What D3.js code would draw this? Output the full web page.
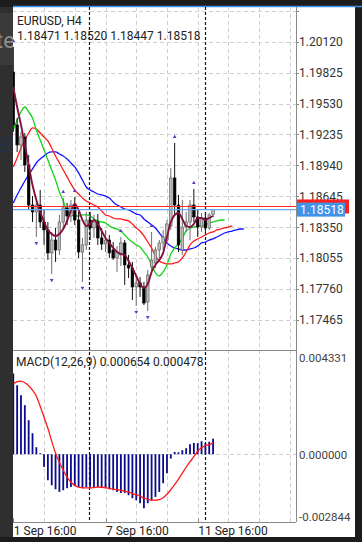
<!DOCTYPE html>
<html><head><meta charset="utf-8">
<script src="https://cdn.jsdelivr.net/npm/d3@7"></script>
<style>html,body{margin:0;padding:0;background:#1e1e1e;overflow:hidden}svg{display:block}</style>
</head><body><svg id="c" width="362" height="542"></svg>
<script>
// ---------- DATA ----------
const symbolTitle = "EURUSD, H4";
const ohlcLine = "1.18471 1.18520 1.18447 1.18518";
const macdTitle = "MACD(12,26,9) 0.000654 0.000478";
const openP  = [1.19831,1.19326,1.19135,1.19211,1.18944,1.18562,1.18496,1.18562,1.18400,1.18324,1.18105,1.18228,1.18133,1.18400,1.18534,1.18457,1.18562,1.18419,1.18114,1.18181,1.18419,1.18343,1.18400,1.18248,1.18190,1.18228,1.18133,1.18057,1.18086,1.18200,1.17990,1.17961,1.17780,1.17819,1.17780,1.17637,1.17971,1.18009,1.18133,1.18200,1.18228,1.18362,1.18820,1.18562,1.18133,1.18352,1.18400,1.18562,1.18448,1.18352,1.18438,1.18343,1.18471];
const highP  = [1.20070,1.19392,1.19259,1.19249,1.19039,1.18648,1.18600,1.18705,1.18515,1.18400,1.18305,1.18343,1.18467,1.18629,1.18581,1.18610,1.18639,1.18496,1.18248,1.18496,1.18496,1.18467,1.18476,1.18343,1.18324,1.18276,1.18209,1.18171,1.18257,1.18228,1.18086,1.18019,1.17895,1.17875,1.17828,1.17942,1.18305,1.18162,1.18228,1.18324,1.18419,1.18915,1.19154,1.18658,1.18610,1.18496,1.18610,1.18715,1.18515,1.18486,1.18496,1.18486,1.18520];
const lowP   = [1.19259,1.19068,1.18992,1.18877,1.18515,1.18400,1.18257,1.18343,1.18181,1.18038,1.17904,1.18019,1.18086,1.18324,1.18372,1.18400,1.18372,1.18057,1.17828,1.18133,1.18228,1.18248,1.18181,1.18133,1.18114,1.18057,1.18038,1.17923,1.17980,1.17799,1.17866,1.17656,1.17599,1.17685,1.17608,1.17551,1.17895,1.17961,1.18057,1.18133,1.18190,1.18324,1.18467,1.18114,1.18086,1.18305,1.18228,1.18400,1.18257,1.18305,1.18295,1.18324,1.18447];
const closeP = [1.19326,1.19135,1.19211,1.18944,1.18562,1.18496,1.18562,1.18400,1.18324,1.18105,1.18228,1.18133,1.18400,1.18534,1.18457,1.18562,1.18419,1.18114,1.18181,1.18419,1.18343,1.18400,1.18248,1.18190,1.18228,1.18105,1.18057,1.18114,1.18200,1.17990,1.17961,1.17780,1.17819,1.17780,1.17627,1.17895,1.18038,1.18133,1.18200,1.18257,1.18381,1.18820,1.18562,1.18181,1.18352,1.18400,1.18562,1.18448,1.18352,1.18438,1.18343,1.18467,1.18518];
// Alligator jaw (blue), teeth (red), lips (green) — drawn forward-shifted, one value per bar slot
const jawBlue = [1.18581,1.18658,1.18725,1.18791,1.18849,1.18906,1.18963,1.19001,1.19030,1.19058,1.19068,1.19068,1.19049,1.19030,1.19001,1.18963,1.18925,1.18868,1.18801,1.18734,1.18705,1.18686,1.18667,1.18658,1.18648,1.18629,1.18591,1.18562,1.18543,1.18524,1.18515,1.18496,1.18476,1.18467,1.18429,1.18400,1.18372,1.18343,1.18295,1.18248,1.18200,1.18171,1.18152,1.18143,1.18133,1.18133,1.18143,1.18152,1.18171,1.18200,1.18209,1.18228,1.18238,1.18257,1.18276,1.18295,1.18305,1.18314,1.18324,1.18333,1.18333];
const teethRed = [1.18925,1.19011,1.19106,1.19182,1.19249,1.19297,1.19287,1.19249,1.19211,1.19173,1.19106,1.19030,1.18963,1.18896,1.18830,1.18763,1.18705,1.18667,1.18629,1.18600,1.18581,1.18562,1.18543,1.18505,1.18467,1.18457,1.18438,1.18429,1.18429,1.18419,1.18410,1.18381,1.18343,1.18314,1.18267,1.18209,1.18152,1.18076,1.18028,1.18009,1.18000,1.18000,1.18009,1.18019,1.18057,1.18114,1.18181,1.18219,1.18238,1.18257,1.18276,1.18295,1.18305,1.18324,1.18333,1.18343,1.18352,1.18362];
const lipsGreen = [1.19278,1.19373,1.19450,1.19497,1.19450,1.19392,1.19278,1.19182,1.19087,1.18992,1.18896,1.18801,1.18686,1.18600,1.18496,1.18467,1.18457,1.18457,1.18467,1.18467,1.18457,1.18429,1.18410,1.18400,1.18391,1.18362,1.18343,1.18333,1.18314,1.18276,1.18238,1.18209,1.18181,1.18162,1.18114,1.18066,1.17990,1.17914,1.17885,1.17923,1.17990,1.18095,1.18152,1.18190,1.18248,1.18314,1.18343,1.18352,1.18362,1.18362,1.18372,1.18391,1.18400,1.18410,1.18419,1.18419];
const fastMA = [1.19688,1.19497,1.19326,1.19135,1.18944,1.18753,1.18610,1.18496,1.18400,1.18324,1.18286,1.18267,1.18286,1.18333,1.18410,1.18505,1.18572,1.18515,1.18419,1.18362,1.18381,1.18419,1.18381,1.18314,1.18248,1.18200,1.18152,1.18114,1.18095,1.18086,1.18028,1.17961,1.17885,1.17809,1.17771,1.17809,1.17923,1.17990,1.18038,1.18105,1.18257,1.18400,1.18467,1.18486,1.18429,1.18362,1.18352,1.18381,1.18438,1.18438,1.18419,1.18438,1.18457];
const fractalUp = [0,13,16,28,36,42,47];
const fractalDown = [6,10,18,32,35];
const macdMain = [0.003386,0.002895,0.002476,0.002056,0.001427,0.000881,0.000294,0.000042,-0.000533,-0.001091,-0.001301,-0.001469,-0.001582,-0.001511,-0.001427,-0.001372,-0.001343,-0.001385,-0.001427,-0.001385,-0.001385,-0.001385,-0.001372,-0.001385,-0.001427,-0.001469,-0.001511,-0.001582,-0.001624,-0.001624,-0.001720,-0.001846,-0.001930,-0.002056,-0.002266,-0.002056,-0.001930,-0.001792,-0.001582,-0.001217,-0.000797,-0.000180,0.000097,0.000080,0.000170,0.000252,0.000420,0.000474,0.000462,0.000545,0.000462,0.000524,0.000654];
const macdSignal = [0.002937,0.003042,0.003063,0.003000,0.002874,0.002685,0.002434,0.002014,0.001553,0.001091,0.000545,0.000042,-0.000336,-0.000671,-0.000965,-0.001175,-0.001301,-0.001385,-0.001406,-0.001414,-0.001414,-0.001397,-0.001376,-0.001385,-0.001406,-0.001439,-0.001469,-0.001490,-0.001511,-0.001553,-0.001594,-0.001649,-0.001699,-0.001762,-0.001846,-0.001888,-0.001930,-0.001930,-0.001909,-0.001825,-0.001678,-0.001490,-0.001280,-0.001049,-0.000797,-0.000545,-0.000315,-0.000105,0.000126,0.000273,0.000357,0.000399,0.000478];
const priceTicks = [1.20415,1.20120,1.19825,1.19530,1.19235,1.18940,1.18645,1.18350,1.18055,1.17760,1.17465];
const priceLabelTicks = [1.20120,1.19825,1.19530,1.19235,1.18940,1.18645,1.18350,1.18055,1.17760,1.17465];
const macdTicks = [0.004331,0.000000,-0.002844];
const timeLabels = ["1 Sep 16:00","7 Sep 16:00","11 Sep 16:00"];
const timeLabelBars = [0,24,48];
const gridBars = [8,16,24,32,40,48,56,64,72];
const separatorBars = [20,50];
const bidPrice = 1.18518;
const askPrice = 1.18548;
const behindTexts = ["te","85"];

// ---------- LAYOUT ----------
const PL=13, PR=296, PT=7, PB=350, MT=351, MB=522;
const svg=d3.select('#c');
const x=d3.scaleLinear().domain([0,48]).range([13.3,197.7]);
const y=d3.scaleLinear().domain([1.17465,1.20120]).range([320,41.7]);
const ym=d3.scaleLinear().domain([-0.002844,0.004331]).range([MB,MT]);
const FONT="Roboto, 'Noto Sans', sans-serif";

// backgrounds
svg.append('rect').attr('width',362).attr('height',542).attr('fill','#1c1c1c');
svg.append('rect').attr('x',0).attr('y',7).attr('width',13).attr('height',530).attr('fill','#2f2f2f');
svg.append('rect').attr('x',0).attr('y',13).attr('width',13).attr('height',52).attr('fill','#3a3a3a');
svg.append('text').attr('x',-4).attr('y',48).attr('font-family',FONT).attr('font-size',22).attr('fill','#8c8c8c').text(behindTexts[0]);
svg.append('text').attr('x',-3).attr('y',152).attr('font-family',FONT).attr('font-size',20).attr('fill','#22324a').text(behindTexts[1]);
svg.append('rect').attr('x',PL).attr('y',7).attr('width',355-PL).attr('height',530).attr('fill','#ffffff');
svg.append('line').attr('x1',PL).attr('x2',362).attr('y1',6.5).attr('y2',6.5).attr('stroke','#3d8ee6').attr('stroke-width',1.5);

const defs=svg.append('defs');
defs.append('clipPath').attr('id','cp').append('rect').attr('x',PL).attr('y',PT).attr('width',PR-PL).attr('height',PB-PT);
defs.append('clipPath').attr('id','cm').append('rect').attr('x',PL).attr('y',MT).attr('width',PR-PL).attr('height',MB-MT);

// grid
const grid=svg.append('g').attr('stroke','#cfcfcf').attr('stroke-width',1).attr('stroke-dasharray','4,3');
grid.selectAll('line.h').data(priceTicks).join('line').attr('class','h')
  .attr('x1',PL).attr('x2',PR).attr('y1',d=>Math.round(y(d))+0.5).attr('y2',d=>Math.round(y(d))+0.5);
grid.append('line').attr('x1',PL).attr('x2',PR).attr('y1',Math.round(ym(0))+0.5).attr('y2',Math.round(ym(0))+0.5);
grid.selectAll('line.v').data(gridBars).join('line').attr('class','v')
  .attr('x1',d=>Math.round(x(d))+0.5).attr('x2',d=>Math.round(x(d))+0.5).attr('y1',PT).attr('y2',MB);

// period separators
svg.append('g').selectAll('line').data(separatorBars).join('line')
  .attr('x1',d=>Math.round(x(d)-0.8)+0.5).attr('x2',d=>Math.round(x(d)-0.8)+0.5)
  .attr('y1',PT).attr('y2',MB).attr('stroke','#111').attr('stroke-width',1.2).attr('stroke-dasharray','3,2');

// axes frame
svg.append('line').attr('x1',PR+0.5).attr('x2',PR+0.5).attr('y1',PT).attr('y2',MB).attr('stroke','#8a8a8a');
svg.append('line').attr('x1',PL).attr('x2',PR).attr('y1',PB+0.5).attr('y2',PB+0.5).attr('stroke','#8a8a8a');
svg.append('line').attr('x1',PL).attr('x2',PR).attr('y1',MB+0.5).attr('y2',MB+0.5).attr('stroke','#8a8a8a');

// price pane
const gp=svg.append('g').attr('clip-path','url(#cp)');
const lineGen=arr=>d3.line().x((d,i)=>x(i)).y(d=>y(d)).curve(d3.curveMonotoneX)(arr);
gp.append('path').attr('d',lineGen(jawBlue)).attr('fill','none').attr('stroke','#1414ff').attr('stroke-width',1.3);
gp.append('path').attr('d',lineGen(teethRed)).attr('fill','none').attr('stroke','#ff1a1a').attr('stroke-width',1.3);
gp.append('path').attr('d',lineGen(lipsGreen)).attr('fill','none').attr('stroke','#14d214').attr('stroke-width',1.3);

const candles=d3.range(openP.length).map(i=>({i,o:openP[i],h:highP[i],l:lowP[i],c:closeP[i]}));
const cg=gp.append('g');
cg.selectAll('line').data(candles).join('line')
  .attr('x1',d=>x(d.i)).attr('x2',d=>x(d.i)).attr('y1',d=>y(d.h)).attr('y2',d=>y(d.l))
  .attr('stroke',d=>d.c>=d.o?'#6e6e6e':'#111').attr('stroke-width',1);
cg.selectAll('rect').data(candles).join('rect')
  .attr('x',d=>x(d.i)-1.3).attr('width',2.6)
  .attr('y',d=>y(Math.max(d.o,d.c))).attr('height',d=>Math.max(1,Math.abs(y(d.o)-y(d.c))))
  .attr('fill',d=>d.c>=d.o?'#bdbdbd':'#000').attr('stroke',d=>d.c>=d.o?'#555':'#000').attr('stroke-width',0.6);

gp.append('path').attr('d',lineGen(fastMA)).attr('fill','none').attr('stroke','#851040').attr('stroke-width',1.9);

// fractals
const tri=d3.symbol().type(d3.symbolTriangle).size(6);
gp.selectAll('path.fu').data(fractalUp).join('path').attr('class','fu')
  .attr('d',tri).attr('transform',d=>`translate(${x(d)},${y(highP[d])-6})`).attr('fill','#6a32c8');
gp.selectAll('path.fd').data(fractalDown).join('path').attr('class','fd')
  .attr('d',tri).attr('transform',d=>`translate(${x(d)},${y(lowP[d])+6}) rotate(180)`).attr('fill','#6a32c8');

// bid / ask lines
gp.append('line').attr('x1',PL).attr('x2',PR).attr('y1',y(askPrice)).attr('y2',y(askPrice)).attr('stroke','#ff2a2a').attr('stroke-width',1.2);
gp.append('line').attr('x1',PL).attr('x2',PR).attr('y1',y(bidPrice)).attr('y2',y(bidPrice)).attr('stroke','#6aa6f2').attr('stroke-width',1.2);

// MACD pane
const gm=svg.append('g').attr('clip-path','url(#cm)');
gm.selectAll('rect').data(macdMain).join('rect')
  .attr('x',(d,i)=>x(i)-0.9).attr('width',1.8)
  .attr('y',d=>Math.min(ym(d),ym(0))).attr('height',d=>Math.abs(ym(d)-ym(0)))
  .attr('fill','#0a0a8c');
gm.append('path').attr('d',d3.line().x((d,i)=>x(i)).y(d=>ym(d)).curve(d3.curveMonotoneX)(macdSignal))
  .attr('fill','none').attr('stroke','#ff1a1a').attr('stroke-width',1.3);

// right axis labels
const ra=svg.append('g').attr('font-family',FONT).attr('font-size',12).attr('fill','#333');
ra.selectAll('line').data(priceTicks).join('line').attr('x1',PR).attr('x2',PR+3)
  .attr('y1',d=>Math.round(y(d))+0.5).attr('y2',d=>Math.round(y(d))+0.5).attr('stroke','#8a8a8a');
ra.selectAll('text').data(priceLabelTicks).join('text').attr('x',PR+3).attr('y',d=>y(d)+4.3).text(d=>d.toFixed(5));

const ma=svg.append('g').attr('font-family',FONT).attr('font-size',11.5).attr('fill','#444');
ma.selectAll('text').data(macdTicks).join('text').attr('x',PR+3)
  .attr('y',(d,i)=>i===0?ym(d)+11:(i===1?ym(d)+5:ym(d)-1)).text(d=>d.toFixed(6));

// price boxes
svg.append('rect').attr('x',PR+1).attr('y',y(askPrice)-7).attr('width',52).attr('height',14).attr('fill','#ff2020');
svg.append('rect').attr('x',PR+1).attr('y',y(bidPrice)-7).attr('width',48).attr('height',14).attr('fill','#3f94ea');
svg.append('text').attr('x',PR+4).attr('y',y(bidPrice)+4.3).attr('font-family',FONT).attr('font-size',12).attr('fill','#fff').text(bidPrice.toFixed(5));

// time axis
const ta=svg.append('g').attr('font-family',FONT).attr('font-size',12).attr('fill','#222');
ta.selectAll('line').data(timeLabelBars).join('line').attr('x1',d=>Math.round(x(d))+0.5).attr('x2',d=>Math.round(x(d))+0.5)
  .attr('y1',MB-4).attr('y2',MB).attr('stroke','#8a8a8a');
ta.selectAll('text').data(timeLabelBars).join('text').attr('x',d=>x(d)+0.5).attr('y',535).text((d,i)=>timeLabels[i]);

// titles
const tt=svg.append('g').attr('font-family',FONT).attr('font-size',12).attr('fill','#222');
tt.append('text').attr('x',17).attr('y',25).text(symbolTitle);
tt.append('text').attr('x',17).attr('y',40).text(ohlcLine);
tt.append('text').attr('x',16).attr('y',366).text(macdTitle);
</script></body></html>
